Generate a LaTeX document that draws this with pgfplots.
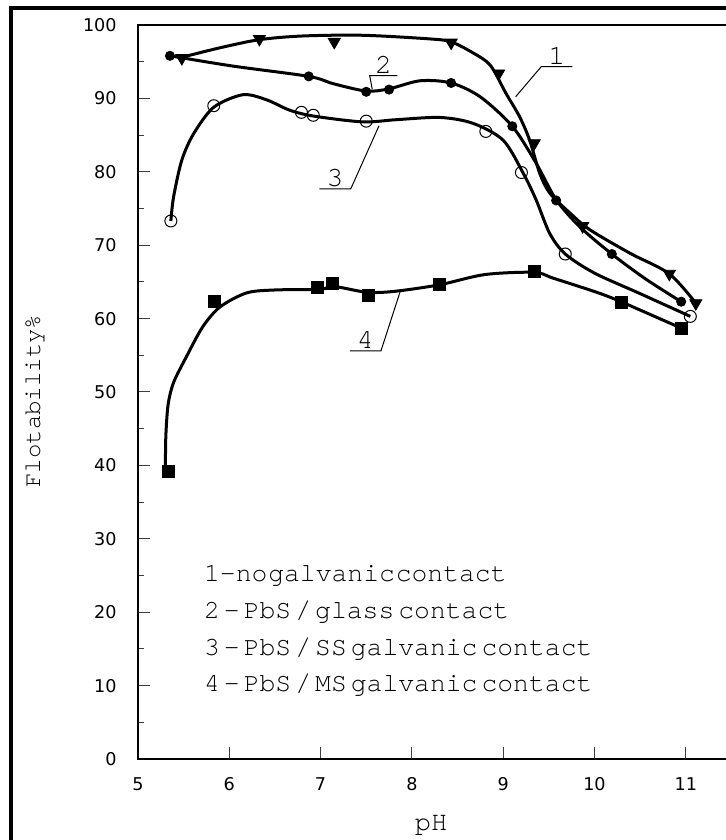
\documentclass[border=0pt]{standalone}
\usepackage{pgfplots}
\pgfplotsset{compat=1.18}
\usepackage{fontspec}
\setmainfont{DejaVu Sans}
\newfontfamily\mono{TeX Gyre Cursor}
\newcommand\s{\hspace{2pt}}
\newcommand\z{\hspace{0.4pt}}
\begin{document}
\begin{tikzpicture}
\begin{axis}[
 at={(0pt,0pt)}, anchor=south west,
 scale only axis, width=310.4pt, height=367pt,
 xmin=5, xmax=11.8, ymin=0, ymax=100,
 xtick={5,...,11}, ytick={0,10,...,100}, minor ytick={5,15,...,95},
 xtick pos=left, ytick pos=left,
 tick align=inside,
 major tick length=6pt, minor tick length=3pt,
 every tick/.style={black!75, line width=0.5pt},
 axis line style={line width=0.8pt},
 /pgf/number format/assume math mode=true,
 ticklabel style={font=\fontsize{8.8}{10}\selectfont},
 yticklabel style={anchor=east, inner sep=0pt, xshift=-10.5pt},
 xticklabel style={anchor=north, inner sep=0pt, yshift=-9pt},
 xlabel={pH}, ylabel={Flotability\%},
 xlabel style={font=\mono\fontsize{13.5}{15}\selectfont, at={(axis description cs:0.472,-0.0899)}, anchor=center},
 ylabel style={font=\mono\fontsize{12}{14}\selectfont, at={(axis description cs:-0.1659,0.4877)}, anchor=center},
]
% curve 1
\addplot[line width=1.5pt, smooth] coordinates {
(5.48,95.6) (5.9,96.9) (6.33,98.0) (6.8,98.5) (7.46,98.6) (8.2,98.1) (8.43,97.7)
(8.67,96.2) (8.86,94.5) (9.03,90.7) (9.18,87.5) (9.29,84.3) (9.40,79.8) (9.51,77.1)
(9.73,74.4) (9.95,72.1) (10.39,68.9) (10.82,66.1) (11.11,62.1)};
% curve 2
\addplot[line width=1.5pt, smooth] coordinates {
(5.35,95.8) (6.04,94.4) (6.87,93.0) (7.14,92.0) (7.5,91.0) (7.75,91.3) (8.09,92.4)
(8.43,92.1) (8.75,90.2) (9.1,86.2) (9.36,81.2) (9.58,76.2) (9.84,72.5) (10.19,68.8)
(10.56,65.4) (10.95,62.3)};
% curve 3
\addplot[line width=1.5pt, smooth] coordinates {
(5.36,73.3) (5.39,76.6) (5.48,81.6) (5.61,85.2) (5.83,88.8) (6.15,90.5) (6.41,89.8)
(6.66,88.4) (6.92,87.6) (7.46,86.8) (7.83,87.1) (8.31,87.4) (8.67,86.6) (9.0,84.3)
(9.22,79.8) (9.36,76.2) (9.51,71.6) (9.68,68.8) (10.0,66.2) (10.5,63.4) (11.05,60.3)};
% curve 4
\addplot[line width=1.5pt, smooth] coordinates {
(5.3,39.4) (5.305,44.0) (5.33,48.3) (5.39,51.3) (5.53,54.8) (5.71,58.9) (5.9,61.6) (6.19,63.5)
(6.5,63.9) (7.0,64.0) (7.14,64.4) (7.5,63.6) (7.8,63.7) (8.3,64.6) (8.8,66.0)
(9.34,66.3) (9.55,65.5) (10.02,63.6) (10.29,62.3) (10.95,58.7)};
% markers
\addplot[only marks, mark=triangle*, mark size=3.5pt, mark options={rotate=180, fill=black}] coordinates {
(5.48,95.5) (6.33,98.1) (7.15,97.7) (8.43,97.6) (8.95,93.4) (9.34,83.9) (9.87,72.6) (10.82,66.1) (11.11,62.1)};
\addplot[only marks, mark=*, mark size=2.3pt, mark options={fill=black}] coordinates {
(5.35,95.8) (6.87,93.0) (7.5,90.9) (7.75,91.2) (8.43,92.1) (9.1,86.2) (9.58,76.1) (10.19,68.8) (10.95,62.3)};
\addplot[only marks, mark=o, mark size=3pt, mark options={line width=0.5pt}] coordinates {
(5.36,73.3) (5.83,89.0) (6.79,88.1) (6.92,87.7) (7.5,86.9) (8.81,85.5) (9.2,79.9) (9.68,68.8) (11.05,60.3)};
\addplot[only marks, mark=square*, mark size=3pt, mark options={fill=black}] coordinates {
(5.33,39.2) (5.84,62.3) (6.97,64.3) (7.13,64.8) (7.52,63.2) (8.30,64.6) (9.34,66.4) (10.29,62.2) (10.95,58.7)};
% curve labels
\draw[line width=0.5pt] (axis cs:9.137,90.23) -- (axis cs:9.417,94.32) -- (axis cs:9.757,94.32);
\node[anchor=south, inner sep=1pt, font=\mono\fontsize{14}{16}\selectfont] at (axis cs:9.587,94.32) {1};
\draw[line width=0.5pt] (axis cs:7.566,91.24) -- (axis cs:7.538,93.09) -- (axis cs:7.840,93.09);
\node[anchor=south, inner sep=1pt, font=\mono\fontsize{14}{16}\selectfont] at (axis cs:7.689,93.09) {2};
\draw[line width=0.5pt] (axis cs:6.986,77.66) -- (axis cs:7.330,77.66) -- (axis cs:7.640,86.27);
\node[anchor=south, inner sep=1pt, font=\mono\fontsize{14}{16}\selectfont] at (axis cs:7.158,77.66) {3};
\draw[line width=0.5pt] (axis cs:7.322,55.59) -- (axis cs:7.661,55.59) -- (axis cs:7.870,63.62);
\node[anchor=south, inner sep=1pt, font=\mono\fontsize{14}{16}\selectfont] at (axis cs:7.49,55.59) {4};
% legend text
\node[anchor=west, inner sep=0pt, font=\mono\fontsize{13.2}{15}\selectfont] at (axis cs:5.72,25) {1-no\z galvanic\z contact};
\node[anchor=west, inner sep=0pt, font=\mono\fontsize{13.2}{15}\selectfont] at (axis cs:5.72,20) {2\s-\s PbS\s/\s glass\s contact};
\node[anchor=west, inner sep=0pt, font=\mono\fontsize{13.2}{15}\selectfont] at (axis cs:5.72,15) {3\s-\s PbS\s/\s SS\s galvanic\s contact};
\node[anchor=west, inner sep=0pt, font=\mono\fontsize{13.2}{15}\selectfont] at (axis cs:5.72,10) {4\s-\s PbS\s/\s MS\s galvanic\s contact};
\end{axis}
\draw[line width=1.8pt] (-63.5pt,-60pt) -- (-63.5pt,375.5pt) -- (400pt,375.5pt);
\pgfresetboundingbox
\useasboundingbox (-69pt,-40.5pt) rectangle (294pt,379.5pt);
\end{tikzpicture}
\end{document}
